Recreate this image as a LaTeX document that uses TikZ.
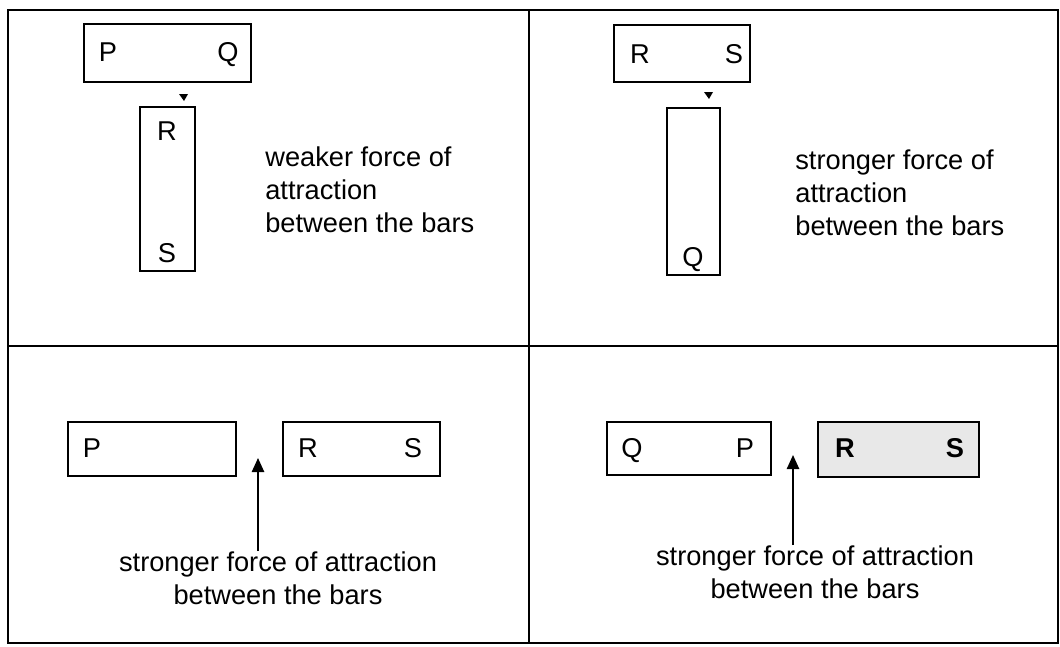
\documentclass[tikz,border=0pt]{standalone}
\usepackage{fontspec}
\setmainfont{Liberation Sans}
\usetikzlibrary{arrows.meta}
\tikzset{
  bar/.style={draw, line width=1.3pt, inner sep=0pt},
  pole/.style={inner sep=0pt, text height=11.1pt, text depth=0pt, font=\fontsize{15.5}{18.5}\selectfont},
  note/.style={inner sep=0pt, font=\fontsize{15.5}{18.8}\selectfont},
  pull/.style={line width=1pt, -{Triangle[width=7pt,length=8pt]}},
}
\begin{document}
\begin{tikzpicture}[x=0.02cm, y=-0.02cm]
\useasboundingbox (0,0) rectangle (1060,646);
% frame and quarters
\draw[line width=1pt] (8,10) rectangle (1058,643);
\draw[line width=1pt] (529,10) -- (529,643);
\draw[line width=1pt] (8,346) -- (1058,346);
% top left
\node[bar, minimum width=3.34cm, minimum height=1.16cm] (pq1) at (167.5,53){};
\node[pole] (p1) at (108,52){P};
\node[pole] (q1) at (228,52){Q};
\fill (179,94) -- (188,94) -- (184,101) -- cycle;
\node[bar, minimum width=1.1cm, minimum height=3.28cm] (rs1) at (167.5,189){};
\node[pole] (r1) at (167,131){R};
\node[pole] (s1) at (167,253){S};
\node[note, align=left, anchor=west] (t1) at (265,190){weaker force of\\attraction\\between the bars};
% top right
\node[bar, minimum width=2.72cm, minimum height=1.14cm] (rs2) at (682,53.5){};
\node[pole] (r2) at (640,54){R};
\node[pole] (s2) at (734,54){S};
\fill (704,92) -- (713,92) -- (709,99) -- cycle;
\node[bar, minimum width=1.06cm, minimum height=3.34cm] (q2b) at (693.5,191.5){};
\node[pole] (q2) at (693,257){Q};
\node[note, align=left, anchor=west] (t2) at (795,193){stronger force of\\attraction\\between the bars};
% bottom left
\node[bar, minimum width=3.36cm, minimum height=1.08cm] (p3b) at (152,449){};
\node[pole] (p3) at (92,448){P};
\node[bar, minimum width=3.14cm, minimum height=1.08cm] (rs3) at (361.5,449){};
\node[pole] (r3) at (308,448){R};
\node[pole] (s3) at (413,448){S};
\node[note, align=center] (t3) at (278,578){stronger force of attraction\\between the bars};
\coordinate (a3) at (258,458);
\draw[pull] (t3.north -| a3) -- (a3);
% bottom right
\node[bar, minimum width=3.28cm, minimum height=1.06cm] (qp4) at (689,448.5){};
\node[pole] (q4) at (632,448){Q};
\node[pole] (p4) at (745,448){P};
\node[bar, fill=gray!18, minimum width=3.22cm, minimum height=1.1cm] (rs4) at (898.5,449.5){};
\node[pole, font=\fontsize{15.5}{18.5}\selectfont\bfseries] (r4) at (845,448){R};
\node[pole, font=\fontsize{15.5}{18.5}\selectfont\bfseries] (s4) at (955,448){S};
\node[note, align=center] (t4) at (815,572){stronger force of attraction\\between the bars};
\coordinate (a4) at (793,455);
\draw[pull] (t4.north -| a4) -- (a4);
\end{tikzpicture}
\end{document}
